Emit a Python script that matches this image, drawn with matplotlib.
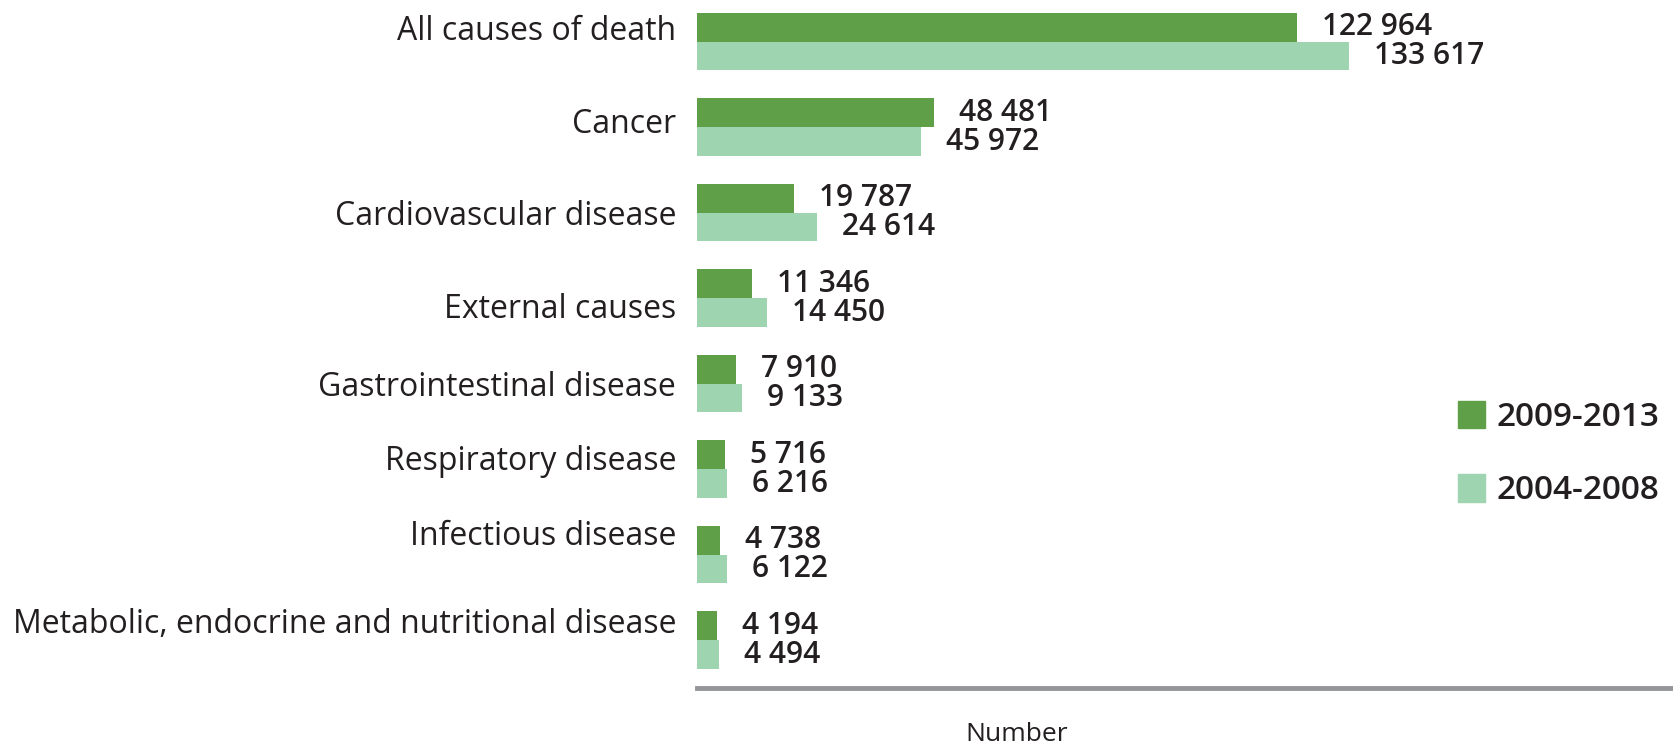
import matplotlib.pyplot as plt
import matplotlib.transforms as mtransforms
import numpy as np
from matplotlib.patches import Patch

plt.rcParams["font.family"] = ["Open Sans", "DejaVu Sans"]

# ---- data ----
categories = [
    "All causes of death",
    "Cancer",
    "Cardiovascular disease",
    "External causes",
    "Gastrointestinal disease",
    "Respiratory disease",
    "Infectious disease",
    "Metabolic, endocrine and nutritional disease",
]
deaths_2009_2013 = [122964, 48481, 19787, 11346, 7910, 5716, 4738, 4194]
deaths_2004_2008 = [133617, 45972, 24614, 14450, 9133, 6216, 6122, 4494]
series_labels = ["2009-2013", "2004-2008"]

# ---- style ----
DARK = "#5f9f48"
LIGHT = "#9fd4b0"
TXT = "#231f20"
BAR_H = 0.337
# small vertical nudges (pixels, up = positive) of category labels, as in the original layout
LABEL_NUDGE = [14, 7, 0, -7, 0, 12, 22, 20]


def fmt(v):
    return f"{v:,}".replace(",", " ")


fig = plt.figure(figsize=(16.73, 7.45), dpi=100)
ax = fig.add_axes([0.4166, 0.0765, 0.5834, 0.9235])

y = np.arange(len(categories))
b1 = ax.barh(y - BAR_H / 2, deaths_2009_2013, height=BAR_H, color=DARK)
b2 = ax.barh(y + BAR_H / 2, deaths_2004_2008, height=BAR_H, color=LIGHT)

for bars, vals in ((b1, deaths_2009_2013), (b2, deaths_2004_2008)):
    for rect, v in zip(bars, vals):
        ax.annotate(fmt(v), xy=(rect.get_width(), rect.get_y() + rect.get_height() / 2),
                    xytext=(25, 0), textcoords="offset pixels",
                    ha="left", va="center", fontsize=21.5, color=TXT, weight="semibold")

ax.set_xlim(0, 200000)
ax.set_ylim(len(categories) - 1 + 0.56, -0.487)
ax.set_yticks(y)
ax.set_yticklabels(categories, fontsize=23, color=TXT)
ax.tick_params(axis="y", length=0, pad=15)
ax.set_xticks([])

for lbl, dy in zip(ax.get_yticklabels(), LABEL_NUDGE):
    lbl.set_transform(lbl.get_transform() +
                      mtransforms.ScaledTranslation(0, dy / 100, fig.dpi_scale_trans))

for s in ("top", "right", "left"):
    ax.spines[s].set_visible(False)
ax.spines["bottom"].set_color("#939598")
ax.spines["bottom"].set_linewidth(3.5)

ax.set_xlabel("Number", fontsize=19, color=TXT)
ax.xaxis.set_label_coords(0.328, -0.05)

handles = [Patch(color=DARK), Patch(color=LIGHT)]
leg = ax.legend(handles, series_labels, loc="center right", bbox_to_anchor=(1.0, 0.34),
                frameon=False, fontsize=24, handlelength=0.8, handleheight=0.9,
                labelspacing=1.2, handletextpad=0.35, borderaxespad=0.0)
for t in leg.get_texts():
    t.set_color(TXT)
    t.set_weight("semibold")

fig.savefig("out.png", dpi=100)
